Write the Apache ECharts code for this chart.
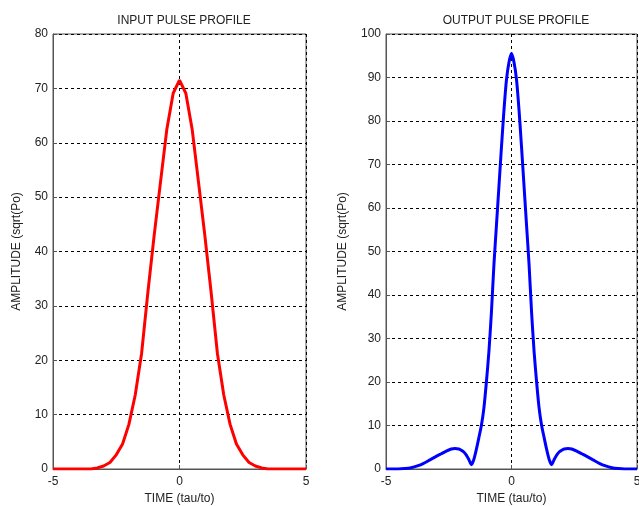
<!DOCTYPE html>
<html>
<head>
<meta charset="utf-8">
<script src="https://cdn.jsdelivr.net/npm/echarts@6/dist/echarts.min.js"></script>
<style>
  html, body { margin: 0; padding: 0; background: #fff; }
  #chart { width: 639px; height: 506px; }
</style>
</head>
<body>
<div id="chart"></div>
<script>
// input pulse
var inputTime = [-5, -4, -3.5, -3.25, -3, -2.75, -2.5, -2.25, -2, -1.75, -1.5, -1.25, -1, -0.75, -0.5, -0.25,
  0, 0.25, 0.5, 0.75, 1, 1.25, 1.5, 1.75, 2, 2.25, 2.5, 2.75, 3, 3.25, 3.5, 4, 5];
var inputAmp = [0, 0, 0, 0.2, 0.55, 1.2, 2.6, 4.6, 8.2, 13.6, 21.2, 32.5, 43, 52.8, 62.5, 69.1,
  71.5, 69.1, 62.5, 52.8, 43, 32.5, 21.2, 13.6, 8.2, 4.6, 2.6, 1.2, 0.55, 0.2, 0, 0, 0];

// output pulse
var outputTime = [-5, -4.5, -4.25, -4, -3.75, -3.5, -3.25, -3, -2.8, -2.6, -2.4, -2.25, -2.1, -2, -1.9, -1.8, -1.7,
  -1.6, -1.5, -1.4, -1.3, -1.2, -1.1, -1, -0.9, -0.8, -0.7, -0.6, -0.5, -0.4, -0.3, -0.2, -0.1,
  0, 0.1, 0.2, 0.3, 0.4, 0.5, 0.6, 0.7, 0.8, 0.9, 1, 1.1, 1.2, 1.3, 1.4, 1.5,
  1.6, 1.7, 1.8, 1.9, 2, 2.1, 2.25, 2.4, 2.6, 2.8, 3, 3.25, 3.5, 3.75, 4, 4.25, 4.5, 5];
var outputAmp = [0, 0, 0.1, 0.3, 0.7, 1.3, 2.1, 2.9, 3.5, 4.1, 4.6, 4.7, 4.6, 4.3, 3.9, 3.2, 2.2,
  1.0, 2.2, 4.5, 7.2, 10, 14, 20, 27, 36, 47, 56, 65, 74, 82.5, 89.5, 93.5,
  95.5, 93.5, 89.5, 82.5, 74, 65, 56, 47, 36, 27, 20, 14, 10, 7.2, 4.5, 2.2,
  1.0, 2.2, 3.2, 3.9, 4.3, 4.6, 4.7, 4.6, 4.1, 3.5, 2.9, 2.1, 1.3, 0.7, 0.3, 0.1, 0, 0];

var titles = ['INPUT PULSE PROFILE', 'OUTPUT PULSE PROFILE'];

function pairs(xs, ys) {
  return xs.map(function (x, i) { return [x, ys[i]]; });
}

var font = 'Liberation Sans, Arial, sans-serif';
var txt = '#222';

function xAxisFor(idx) {
  return {
    type: 'value', gridIndex: idx, min: -5, max: 5, interval: 5,
    name: 'TIME (tau/to)', nameLocation: 'middle', nameGap: 24,
    nameTextStyle: { color: txt, fontSize: 12, fontFamily: font },
    axisLine: { show: true, onZero: false, lineStyle: { color: '#555', width: 1 } },
    axisTick: { show: true, inside: true, length: 4, lineStyle: { color: '#555' } },
    axisLabel: { color: txt, fontSize: 12, fontFamily: font, margin: 7 },
    splitLine: { show: true, lineStyle: { color: '#000', type: [3, 3], width: 1 } }
  };
}

function yAxisFor(idx, max, gap) {
  return {
    type: 'value', gridIndex: idx, min: 0, max: max, interval: 10,
    name: 'AMPLITUDE (sqrt(Po)', nameLocation: 'middle', nameGap: gap,
    nameTextStyle: { color: txt, fontSize: 12, fontFamily: font },
    axisLine: { show: true, onZero: false, lineStyle: { color: '#555', width: 1 } },
    axisTick: { show: true, inside: true, length: 4, lineStyle: { color: '#555' } },
    axisLabel: { color: txt, fontSize: 12, fontFamily: font, margin: 5 },
    splitLine: { show: true, lineStyle: { color: '#000', type: [3, 3], width: 1 } }
  };
}

var chart = echarts.init(document.getElementById('chart'), null, { renderer: 'canvas' });

var option = {
  backgroundColor: '#fff',
  animation: false,
  title: [
    { text: titles[0], left: 179, top: 10, textAlign: 'center',
      textStyle: { fontSize: 12, fontWeight: 'normal', color: txt, fontFamily: font } },
    { text: titles[1], left: 511, top: 10, textAlign: 'center',
      textStyle: { fontSize: 12, fontWeight: 'normal', color: txt, fontFamily: font } }
  ],
  grid: [
    { left: 53, right: 333, top: 34, bottom: 37, show: true, borderColor: '#555', borderWidth: 1,
      outerBoundsMode: 'none' },
    { left: 386, right: 2, top: 34, bottom: 37, show: true, borderColor: '#555', borderWidth: 1,
      outerBoundsMode: 'none' }
  ],
  xAxis: [xAxisFor(0), xAxisFor(1)],
  yAxis: [yAxisFor(0, 80, 30), yAxisFor(1, 100, 37)],
  series: [
    {
      name: 'input', type: 'line', xAxisIndex: 0, yAxisIndex: 0,
      data: pairs(inputTime, inputAmp),
      showSymbol: false, smooth: false,
      lineStyle: { color: '#ff0000', width: 3 }
    },
    {
      name: 'output', type: 'line', xAxisIndex: 1, yAxisIndex: 1,
      data: pairs(outputTime, outputAmp),
      showSymbol: false, smooth: 0.2,
      lineStyle: { color: '#0000ff', width: 3 }
    }
  ]
};

chart.setOption(option);
</script>
</body>
</html>
